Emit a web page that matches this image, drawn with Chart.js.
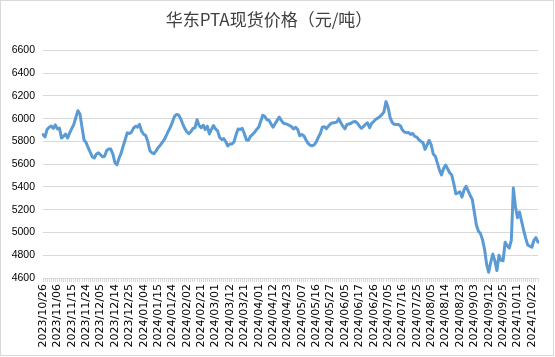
<!DOCTYPE html>
<html>
<head>
<meta charset="utf-8">
<script src="https://cdn.jsdelivr.net/npm/chart.js@4/dist/chart.umd.min.js"></script>
<style>
  html, body { margin: 0; padding: 0; background: #fff; }
  #wrap { width: 555px; height: 357px; position: relative; }
</style>
</head>
<body>
<div id="wrap"><canvas id="c" width="555" height="357"></canvas></div>
<script>
const chartTitle = '华东PTA现货价格（元/吨）';
// labelled dates, one every 7 trading days
const tickLabels = [
  '2023/10/26','2023/11/06','2023/11/15','2023/11/24','2023/12/05','2023/12/14','2023/12/25',
  '2024/01/04','2024/01/15','2024/01/24','2024/02/02','2024/02/21','2024/03/01','2024/03/12',
  '2024/03/21','2024/04/01','2024/04/12','2024/04/23','2024/05/07','2024/05/16','2024/05/27',
  '2024/06/05','2024/06/17','2024/06/26','2024/07/05','2024/07/16','2024/07/25','2024/08/05',
  '2024/08/14','2024/08/23','2024/09/03','2024/09/12','2024/09/25','2024/10/11','2024/10/22'
];
const labelEvery = 7;
// daily spot price (yuan/ton)
const prices = [
  5860,5840,5905,5925,5935,5915,5945,5910,5918,5830,5845,5865,5830,5875,5912,5950,6010,6070,6040,5925,
  5812,5790,5745,5705,5665,5655,5690,5700,5683,5665,5670,5720,5733,5733,5690,5615,5595,5650,5695,5757,
  5815,5875,5870,5880,5915,5934,5925,5950,5890,5863,5852,5800,5720,5700,5692,5715,5745,5765,5790,5815,
  5850,5890,5925,5970,6020,6037,6032,6002,5955,5915,5885,5868,5886,5915,5920,5990,5940,5920,5942,5905,
  5934,5866,5905,5940,5910,5893,5835,5817,5825,5797,5760,5777,5777,5795,5860,5910,5905,5915,5870,5815,
  5810,5845,5860,5880,5905,5925,5978,6030,6020,5990,5987,5955,5925,5955,5985,6015,5985,5962,5955,5950,
  5940,5930,5910,5925,5905,5850,5860,5850,5815,5785,5768,5762,5770,5795,5835,5870,5925,5930,5912,5935,
  5955,5964,5965,5970,6000,5964,5934,5910,5950,5953,5960,5972,5975,5962,5936,5915,5930,5950,5964,5920,
  5958,5975,5995,6005,6018,6035,6060,6150,6100,6010,5968,5950,5949,5949,5938,5900,5882,5877,5878,5862,
  5870,5845,5838,5815,5800,5790,5730,5770,5810,5770,5690,5670,5612,5550,5505,5560,5593,5560,5525,5505,
  5430,5340,5348,5357,5310,5375,5405,5365,5325,5290,5180,5065,5010,4990,4935,4850,4720,4650,4740,4810,
  4750,4665,4800,4755,4751,4914,4884,4863,4930,5390,5230,5130,5180,5100,5020,4950,4890,4880,4870,4930,
  4955,4915
];
const yMin = 4600, yMax = 6600, yStep = 200;

const categories = prices.map((v, i) => (i % labelEvery === 0 && tickLabels[i / labelEvery]) ? tickLabels[i / labelEvery] : '');

const borderPlugin = {
  id: 'outerBorder',
  afterDraw(chart) {
    const ctx = chart.ctx;
    ctx.save();
    ctx.strokeStyle = '#d9d9d9';
    ctx.lineWidth = 1;
    ctx.strokeRect(0.5, 0.5, chart.width - 2, chart.height - 2);
    ctx.restore();
  }
};

new Chart(document.getElementById('c'), {
  type: 'line',
  data: {
    labels: categories,
    datasets: [{
      data: prices,
      borderColor: '#5b9bd5',
      borderWidth: 3,
      pointRadius: 0,
      tension: 0,
      borderJoinStyle: 'round',
      borderCapStyle: 'round',
      fill: false
    }]
  },
  options: {
    responsive: false,
    animation: false,
    devicePixelRatio: 1,
    layout: { padding: { left: 0, right: 17, top: 0, bottom: 0 } },
    plugins: {
      legend: { display: false },
      tooltip: { enabled: false },
      title: {
        display: true,
        text: chartTitle,
        color: '#404040',
        font: { family: '"Noto Sans CJK SC", "Noto Sans", sans-serif', size: 17, weight: 'normal' },
        padding: { top: 9, bottom: 21 }
      }
    },
    scales: {
      x: {
        type: 'category',
        offset: false,
        grid: { display: true, drawOnChartArea: false, drawTicks: true, tickLength: 4, color: '#d9d9d9' },
        border: { display: true, color: '#d9d9d9' },
        ticks: {
          autoSkip: false,
          maxRotation: 90,
          minRotation: 90,
          padding: 2,
          color: '#000',
          font: { family: '"DejaVu Sans", sans-serif', size: 11 }
        },
        afterFit(s) { s.height = 79; }
      },
      y: {
        min: yMin,
        max: yMax,
        grid: { color: '#d9d9d9', drawTicks: false },
        border: { display: false },
        ticks: {
          stepSize: yStep,
          padding: 8,
          color: '#000',
          font: { family: '"Liberation Sans", Arial, sans-serif', size: 10.5 },
          callback: (v) => String(v)
        },
        afterFit(s) { s.width = 43; }
      }
    }
  },
  plugins: [borderPlugin]
});
</script>
</body>
</html>
